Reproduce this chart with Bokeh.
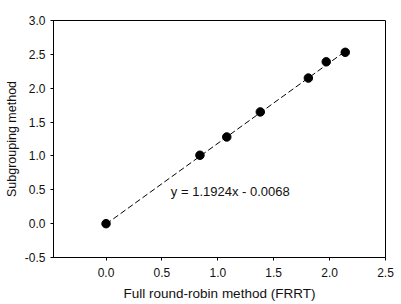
from bokeh.plotting import figure
from bokeh.embed import file_html
from bokeh.resources import INLINE
from bokeh.models import Range1d, FixedTicker, Label

frrt = [0.0, 0.84, 1.08, 1.38, 1.81, 1.97, 2.14]
subgroup = [0.0, 1.01, 1.28, 1.65, 2.15, 2.39, 2.53]
slope = 1.1924
intercept = -0.0068
x_ticks = [0.0, 0.5, 1.0, 1.5, 2.0, 2.5]
y_ticks = [-0.5, 0.0, 0.5, 1.0, 1.5, 2.0, 2.5, 3.0]
eq_label = "y = 1.1924x - 0.0068"

FONT = "Liberation Sans"

p = figure(width=401, height=304, output_backend="svg", toolbar_location=None,
           x_range=Range1d(-0.47, 2.5), y_range=Range1d(-0.5, 3.0),
           min_border_left=53, min_border_right=16, min_border_top=20, min_border_bottom=47)
p.xgrid.visible = False
p.ygrid.visible = False
p.outline_line_color = "black"
p.outline_line_width = 1
p.outline_line_alpha = 1
p.background_fill_color = "white"
p.border_fill_color = "white"

fit_x = [min(frrt), max(frrt)]
fit_y = [slope * v + intercept for v in fit_x]
p.line(fit_x, fit_y, line_color="black", line_dash="6 3", line_width=1)
p.scatter(frrt, subgroup, size=8.5, color="black")

p.add_layout(Label(x=0.58, y=0.47, text=eq_label, text_font=FONT,
                   text_font_size="13px", text_baseline="middle", text_color="#111111"))

for ax in (p.xaxis[0], p.yaxis[0]):
    ax.major_label_text_font = FONT
    ax.major_label_text_font_size = "12px"
    ax.major_label_text_color = "#111111"
    ax.axis_label_text_font = FONT
    ax.axis_label_text_font_style = "normal"
    ax.axis_label_text_color = "#111111"
    ax.axis_line_color = "black"
    ax.major_tick_line_color = "black"
    ax.major_tick_out = 3
    ax.major_tick_in = 0
    ax.minor_tick_line_color = None

p.xaxis[0].ticker = FixedTicker(ticks=x_ticks)
p.yaxis[0].ticker = FixedTicker(ticks=y_ticks)
p.xaxis[0].major_label_overrides = {t: f"{t:.1f}" for t in x_ticks}
p.yaxis[0].major_label_overrides = {t: f"{t:.1f}" for t in y_ticks}
p.xaxis[0].axis_label = "Full round-robin method (FRRT)"
p.yaxis[0].axis_label = "Subgrouping method"
p.xaxis[0].axis_label_text_font_size = "13.5px"
p.yaxis[0].axis_label_text_font_size = "12.5px"
p.xaxis[0].major_label_standoff = 7
p.xaxis[0].axis_label_standoff = 6
p.yaxis[0].major_label_standoff = 5
p.yaxis[0].axis_label_standoff = 3

open("out.html", "w").write(file_html(p, INLINE))
